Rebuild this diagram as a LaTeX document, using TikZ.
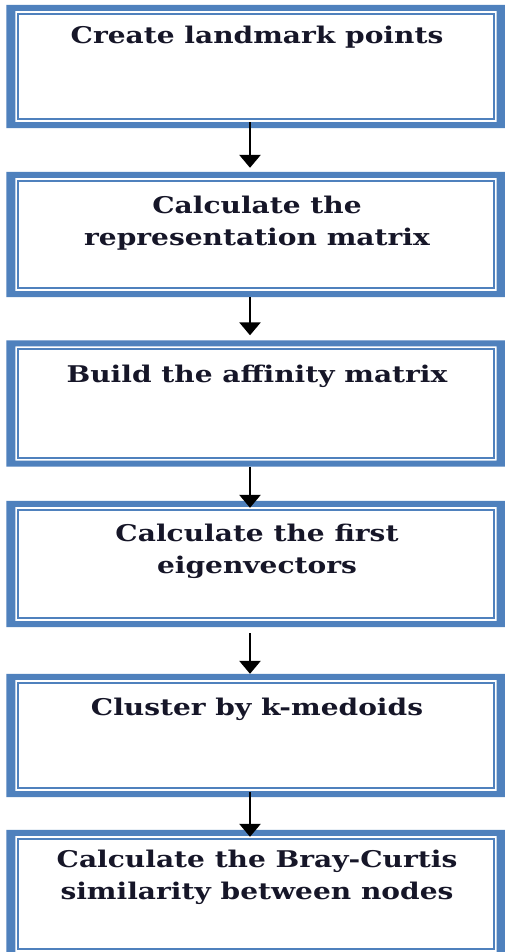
\documentclass[tikz,border=0pt]{standalone}
\usepackage{fontspec}
\setmainfont{DejaVu Serif}[FakeStretch=1.22]
\usetikzlibrary{arrows.meta,calc}
\definecolor{bandblue}{HTML}{4F81BD}
\definecolor{inkdark}{RGB}{22,22,40}
\tikzset{
  stepframe/.style={rectangle, draw=none, minimum width=499pt, inner sep=0pt},
  steptext/.style={anchor=base, text=inkdark, font=\fontsize{23}{32}\selectfont\bfseries, align=center, inner sep=0pt},
  flowarrow/.style={line width=2.8pt, -{Triangle[width=21pt,length=13pt]}}
}
\newcommand{\doubleframe}[1]{%
  \fill[bandblue, even odd rule]
    (#1.south west) rectangle (#1.north east)
    ([shift={(9pt,6pt)}]#1.south west) rectangle ([shift={(-9pt,-6pt)}]#1.north east);
  \draw[bandblue, line width=2pt]
    ([shift={(12pt,9pt)}]#1.south west) rectangle ([shift={(-12pt,-9pt)}]#1.north east);
}
\begin{document}
\begin{tikzpicture}[x=1pt,y=-1pt]
\useasboundingbox (0,0) rectangle (504,952);
\fill[white] (0,0) rectangle (504,952);

% frames of the six steps
\node[stepframe, minimum height=123pt] (b1) at (256,66.5) {};
\node[stepframe, minimum height=125pt] (b2) at (256,234.5) {};
\node[stepframe, minimum height=126pt] (b3) at (256,403.5) {};
\node[stepframe, minimum height=126pt] (b4) at (256,564) {};
\node[stepframe, minimum height=123pt] (b5) at (256,735.5) {};
\node[stepframe, minimum height=128pt] (b6) at (256,894) {};
\foreach \b in {b1,b2,b3,b4,b5,b6} {\doubleframe{\b}}

% step labels (base anchor sits on the last line)
\node[steptext] (t1) at (257,44) {Create landmark points};
\node[steptext] (t2) at (257,245) {Calculate the\\representation matrix};
\node[steptext] (t3) at (257,382) {Build the affinity matrix};
\node[steptext] (t4) at (257,573) {Calculate the first\\eigenvectors};
\node[steptext] (t5) at (257,715) {Cluster by k-medoids};
\node[steptext] (t6) at (257,899) {Calculate the Bray-Curtis\\similarity between nodes};

% connectors
\draw[flowarrow] ([xshift=-6pt,yshift=6pt]b1.south) -- ([xshift=-6pt,yshift=4pt]b2.north);
\draw[flowarrow] ([xshift=-6pt]b2.south) -- ([xshift=-6pt,yshift=5pt]b3.north);
\draw[flowarrow] ([xshift=-6pt]b3.south) -- ([xshift=-6pt,yshift=-7pt]b4.north);
\draw[flowarrow] ([xshift=-6pt,yshift=-6pt]b4.south) -- ([xshift=-6pt]b5.north);
\draw[flowarrow] ([xshift=-6pt,yshift=5pt]b5.south) -- ([xshift=-6pt,yshift=-7pt]b6.north);
\end{tikzpicture}
\end{document}
